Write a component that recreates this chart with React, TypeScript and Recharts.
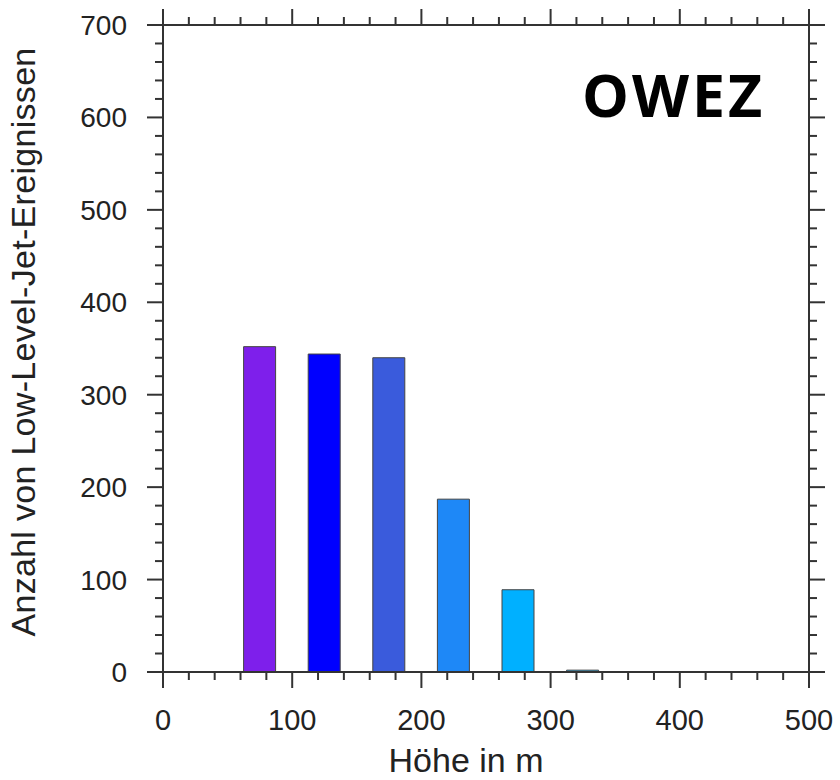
import React from 'react';
import { BarChart, Bar, XAxis, YAxis, Cell } from 'recharts';

// Low-level-jet event counts per height bin (bin centres in m)
const binCentres = [75, 125, 175, 225, 275, 325];
const eventCounts = [352, 344, 340, 187, 89, 2];
const binColors = ['#7E1FEB', '#0000FF', '#3A5BDC', '#1E88F7', '#00B0FF', '#00B0FF'];

const xMajorTicks = [0, 100, 200, 300, 400, 500];
const yMajorTicks = [0, 100, 200, 300, 400, 500, 600, 700];
const MINOR_PER_MAJOR = 5;

const data = binCentres.map((h, i) => ({ height: h, count: eventCounts[i] }));

// add 4 minor ticks between each pair of labelled ticks
const withMinors = (majors: number[]) => {
  const out: number[] = [];
  majors.forEach((m, i) => {
    out.push(m);
    if (i < majors.length - 1) {
      const step = (majors[i + 1] - m) / MINOR_PER_MAJOR;
      for (let k = 1; k < MINOR_PER_MAJOR; k++) out.push(m + step * k);
    }
  });
  return out;
};

const xTicks = withMinors(xMajorTicks);
const yTicks = withMinors(yMajorTicks);

const AXIS = '#333';
const TEXT = '#222';
const FONT = '"Liberation Sans", Arial, Helvetica, sans-serif';
const MAJOR_LEN = 16;
const MINOR_LEN = 8;

const BottomTick = ({ x, y, payload }: any) => {
  const major = payload.value % 100 === 0;
  return (
    <g>
      <line x1={x} y1={y} x2={x} y2={y + (major ? MAJOR_LEN : MINOR_LEN)} stroke={AXIS} strokeWidth={2} />
      {major && (
        <text x={x} y={y + 58} textAnchor="middle" fontSize={29} fontFamily={FONT} fill={TEXT}>
          {payload.value}
        </text>
      )}
    </g>
  );
};

const TopTick = ({ x, y, payload }: any) => {
  const major = payload.value % 100 === 0;
  return <line x1={x} y1={y} x2={x} y2={y - (major ? MAJOR_LEN : MINOR_LEN)} stroke={AXIS} strokeWidth={2} />;
};

const LeftTick = ({ x, y, payload }: any) => {
  const major = payload.value % 100 === 0;
  return (
    <g>
      <line x1={x} y1={y} x2={x - (major ? MAJOR_LEN : MINOR_LEN)} y2={y} stroke={AXIS} strokeWidth={2} />
      {major && (
        <text x={x - 36} y={y + 10} textAnchor="end" fontSize={28} fontFamily={FONT} fill={TEXT}>
          {payload.value}
        </text>
      )}
    </g>
  );
};

const RightTick = ({ x, y, payload }: any) => {
  const major = payload.value % 100 === 0;
  return <line x1={x} y1={y} x2={x + (major ? MAJOR_LEN : MINOR_LEN)} y2={y} stroke={AXIS} strokeWidth={2} />;
};

const axisLine = { stroke: AXIS, strokeWidth: 2 };

export default function App() {
  return (
    <div style={{ position: 'absolute', left: 0, top: 0, width: 840, height: 780, background: '#fff' }}>
      <BarChart width={840} height={780} data={data} margin={{ top: 5, right: 11, bottom: 48, left: 83 }}>
        <XAxis
          xAxisId="bottom"
          dataKey="height"
          type="number"
          domain={[0, 500]}
          ticks={xTicks}
          interval={0}
          height={60}
          tickSize={0}
          tickMargin={0}
          tickLine={false}
          axisLine={axisLine}
          tick={<BottomTick />}
        />
        <XAxis
          xAxisId="top"
          dataKey="height"
          orientation="top"
          type="number"
          domain={[0, 500]}
          ticks={xTicks}
          interval={0}
          height={20}
          tickSize={0}
          tickMargin={0}
          tickLine={false}
          axisLine={axisLine}
          tick={<TopTick />}
        />
        <YAxis
          yAxisId="left"
          type="number"
          domain={[0, 700]}
          ticks={yTicks}
          interval={0}
          width={80}
          tickSize={0}
          tickMargin={0}
          tickLine={false}
          axisLine={axisLine}
          tick={<LeftTick />}
        />
        <YAxis
          yAxisId="right"
          orientation="right"
          type="number"
          domain={[0, 700]}
          ticks={yTicks}
          interval={0}
          width={20}
          tickSize={0}
          tickMargin={0}
          tickLine={false}
          axisLine={axisLine}
          tick={<RightTick />}
        />
        <Bar
          xAxisId="bottom"
          yAxisId="left"
          dataKey="count"
          barSize={32}
          stroke="#444"
          strokeWidth={1}
          isAnimationActive={false}
        >
          {data.map((d, i) => (
            <Cell key={d.height} fill={binColors[i]} />
          ))}
        </Bar>
        {/* invisible copy so the mirrored top/right axes get a domain */}
        <Bar
          xAxisId="top"
          yAxisId="right"
          dataKey="count"
          barSize={32}
          fill="none"
          stroke="none"
          legendType="none"
          isAnimationActive={false}
        />
      </BarChart>

      <div
        style={{
          position: 'absolute',
          left: 23,
          top: 342,
          transform: 'translate(-50%, -50%) rotate(-90deg)',
          whiteSpace: 'nowrap',
          fontFamily: FONT,
          fontSize: 34,
          letterSpacing: 0.3,
          color: TEXT,
          lineHeight: '34px',
        }}
      >
        Anzahl von Low-Level-Jet-Ereignissen
      </div>

      <div
        style={{
          position: 'absolute',
          left: 466,
          top: 740,
          transform: 'translateX(-50%)',
          whiteSpace: 'nowrap',
          fontFamily: FONT,
          fontSize: 34,
          color: TEXT,
          lineHeight: '40px',
        }}
      >
        Höhe in m
      </div>

      <div
        style={{
          position: 'absolute',
          left: 582,
          top: 58,
          fontFamily: '"Open Sans", Lato, sans-serif',
          fontWeight: 700,
          fontSize: 59,
          letterSpacing: 3,
          lineHeight: '72px',
          color: '#000',
        }}
      >
        OWEZ
      </div>
    </div>
  );
}
